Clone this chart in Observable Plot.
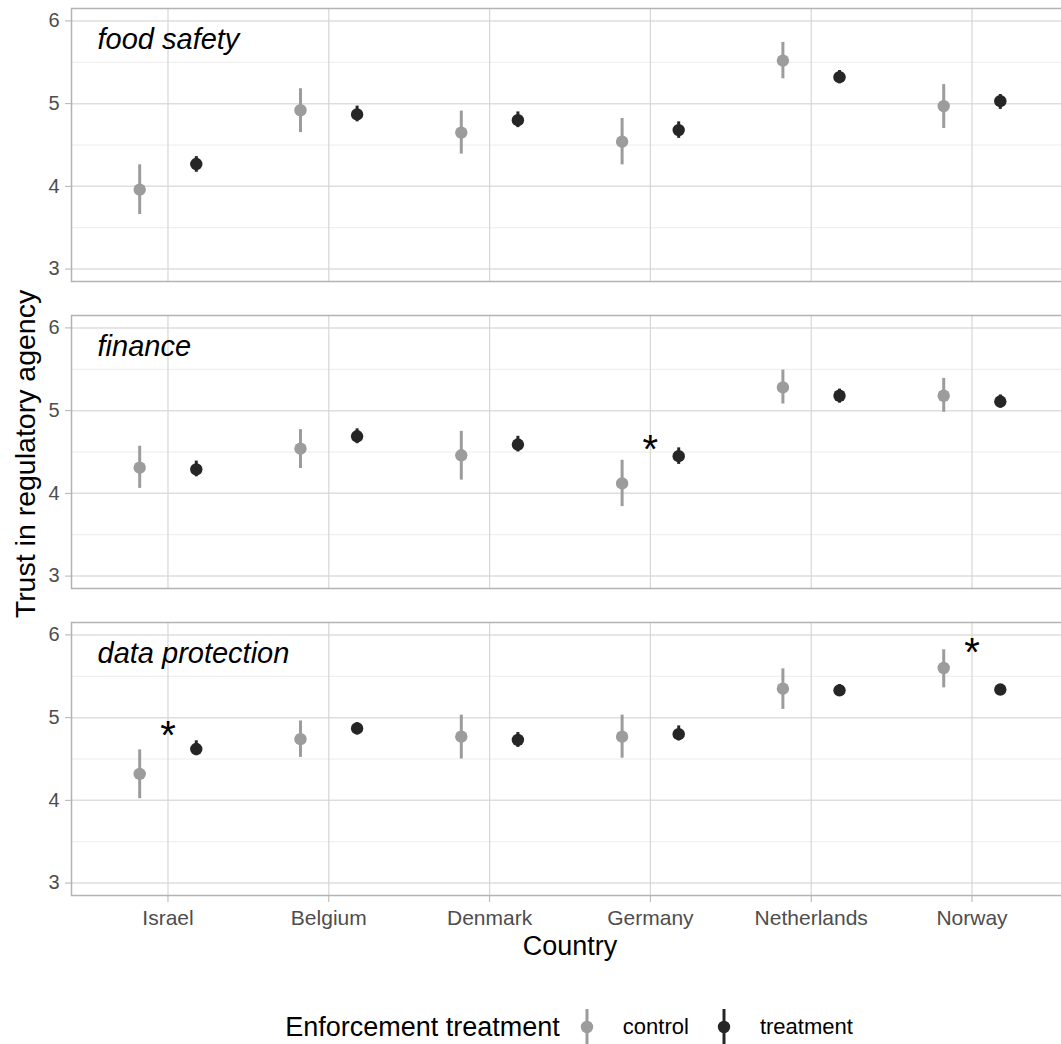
<!DOCTYPE html>
<html>
<head>
<meta charset="utf-8">
<script src="https://cdn.jsdelivr.net/npm/d3@7"></script>
<script src="https://cdn.jsdelivr.net/npm/@observablehq/plot@0.6"></script>
<style>
  html, body { margin: 0; padding: 0; background: #fff; }
  body { width: 1061px; height: 1044px; overflow: hidden; font-family: "Liberation Sans", Arial, sans-serif; }
  #legend { position: relative; width: 996px; margin-left: 71px; height: 69px; display: flex; justify-content: center; align-items: center; padding-top: 35px; box-sizing: border-box; }
  #legend .title { font-size: 27px; color: #000; margin-right: 20px; }
  #legend .lab { font-size: 22px; color: #000; margin-left: 29px; margin-right: 28px; }
  #legend svg { display: block; }
</style>
</head>
<body>
<div id="chart"></div>
<div id="legend"></div>
<script>
const countries = ["Israel", "Belgium", "Denmark", "Germany", "Netherlands", "Norway"];
const domains = ["food safety", "finance", "data protection"];
const groups = ["control", "treatment"];
const groupColors = ["#9c9c9c", "#262626"];

// rows: food safety, finance, data protection; columns: countries
const controlMean = [
  [3.96, 4.92, 4.65, 4.54, 5.52, 4.97],
  [4.31, 4.54, 4.46, 4.12, 5.28, 5.18],
  [4.32, 4.74, 4.77, 4.77, 5.35, 5.60]];
const controlLow = [
  [3.66, 4.65, 4.39, 4.26, 5.30, 4.70],
  [4.06, 4.30, 4.16, 3.84, 5.08, 4.98],
  [4.02, 4.52, 4.50, 4.51, 5.10, 5.36]];
const controlHigh = [
  [4.26, 5.18, 4.91, 4.82, 5.74, 5.23],
  [4.57, 4.77, 4.75, 4.40, 5.49, 5.39],
  [4.61, 4.96, 5.03, 5.03, 5.59, 5.82]];
const treatMean = [
  [4.27, 4.87, 4.80, 4.68, 5.32, 5.03],
  [4.29, 4.69, 4.59, 4.45, 5.18, 5.11],
  [4.62, 4.87, 4.73, 4.80, 5.33, 5.34]];
const treatLow = [
  [4.17, 4.78, 4.71, 4.58, 5.24, 4.93],
  [4.20, 4.60, 4.50, 4.35, 5.09, 5.03],
  [4.54, 4.79, 4.64, 4.72, 5.27, 5.28]];
const treatHigh = [
  [4.36, 4.97, 4.90, 4.78, 5.40, 5.11],
  [4.39, 4.78, 4.69, 4.55, 5.26, 5.19],
  [4.72, 4.94, 4.82, 4.90, 5.40, 5.40]];

// significance markers
const starDomain = ["finance", "data protection", "data protection"];
const starCountry = ["Germany", "Israel", "Norway"];
const starValue = [4.5, 4.75, 5.75];

const yTicks = [3, 4, 5, 6];
const yMinor = [3.5, 4.5, 5.5];

const rows = [];
domains.forEach((dom, i) => {
  countries.forEach((c, j) => {
    rows.push({domain: dom, country: c, group: "control", mean: controlMean[i][j], low: controlLow[i][j], high: controlHigh[i][j]});
    rows.push({domain: dom, country: c, group: "treatment", mean: treatMean[i][j], low: treatLow[i][j], high: treatHigh[i][j]});
  });
});
const stars = starDomain.map((d, i) => ({domain: d, country: starCountry[i], value: starValue[i]}));

const dodge = 0.176;
const xPos = d => countries.indexOf(d.country) + (d.group === "control" ? -dodge : d.group === "treatment" ? dodge : 0);

const font = "Liberation Sans, Arial, sans-serif";

const plot = Plot.plot({
  width: 1061,
  height: 975,
  marginLeft: 71,
  marginRight: -7,
  marginTop: 7,
  marginBottom: 78,
  style: {fontFamily: font, background: "#fff"},
  x: {domain: [-0.6, 5.6]},
  y: {domain: [2.85, 6.15]},
  fy: {domain: domains, axis: null, paddingInner: 0.11, paddingOuter: 0},
  color: {domain: groups, range: groupColors},
  marks: [
    Plot.gridY({ticks: yMinor, stroke: "#ececec", strokeOpacity: 1, strokeWidth: 1}),
    Plot.gridY({ticks: yTicks, stroke: "#dedede", strokeOpacity: 1, strokeWidth: 1.5}),
    Plot.gridX({ticks: d3.range(countries.length), stroke: "#d6d6d6", strokeOpacity: 1, strokeWidth: 1.2}),
    Plot.frame({stroke: "#b3b3b3", strokeWidth: 1.5}),
    Plot.axisY({ticks: yTicks, tickFormat: d3.format("d"), tickSize: 6, tickPadding: 6, stroke: "#b3b3b3", fill: "#4d4d4d", fontSize: 20, label: null}),
    Plot.axisX({ticks: d3.range(countries.length), tickFormat: i => countries[i], tickSize: 7, tickPadding: 8, stroke: "#b3b3b3", fill: "#4d4d4d", fontSize: 21, label: null}),
    Plot.ruleX(rows, {x: xPos, y1: "low", y2: "high", fy: "domain", stroke: "group", strokeWidth: 3}),
    Plot.dot(rows, {x: xPos, y: "mean", fy: "domain", fill: "group", r: 6.2}),
    Plot.text(stars, {x: d => countries.indexOf(d.country), y: "value", fy: "domain", text: () => "*", fontSize: 40, fill: "#000", lineAnchor: "middle", dy: -2}),
    Plot.text(domains, {fy: d => d, text: d => d, frameAnchor: "top-left", textAnchor: "start", lineAnchor: "middle", dx: 26, dy: 31, fontSize: 29, fontStyle: "italic", fill: "#000"}),
    Plot.text(["Trust in regulatory agency"], {fy: () => "finance", text: d => d, frameAnchor: "left", rotate: -90, textAnchor: "middle", lineAnchor: "middle", dx: -46, dy: 2, fontSize: 28.5, fill: "#000"}),
    Plot.text(["Country"], {fy: () => "data protection", text: d => d, frameAnchor: "bottom", textAnchor: "middle", lineAnchor: "middle", dy: 51, fontSize: 27, fill: "#000"})
  ]
});
document.getElementById("chart").appendChild(plot);

// legend
const legend = document.getElementById("legend");
const title = document.createElement("span");
title.className = "title";
title.textContent = "Enforcement treatment";
legend.appendChild(title);
groups.forEach((g, i) => {
  const svg = d3.create("svg").attr("width", 14).attr("height", 40);
  svg.append("line").attr("x1", 7).attr("x2", 7).attr("y1", 2).attr("y2", 38).attr("stroke", groupColors[i]).attr("stroke-width", 3);
  svg.append("circle").attr("cx", 7).attr("cy", 20).attr("r", 6.2).attr("fill", groupColors[i]);
  legend.appendChild(svg.node());
  const lab = document.createElement("span");
  lab.className = "lab";
  lab.textContent = g;
  if (i === groups.length - 1) lab.style.marginRight = "0px";
  legend.appendChild(lab);
});
</script>
</body>
</html>
